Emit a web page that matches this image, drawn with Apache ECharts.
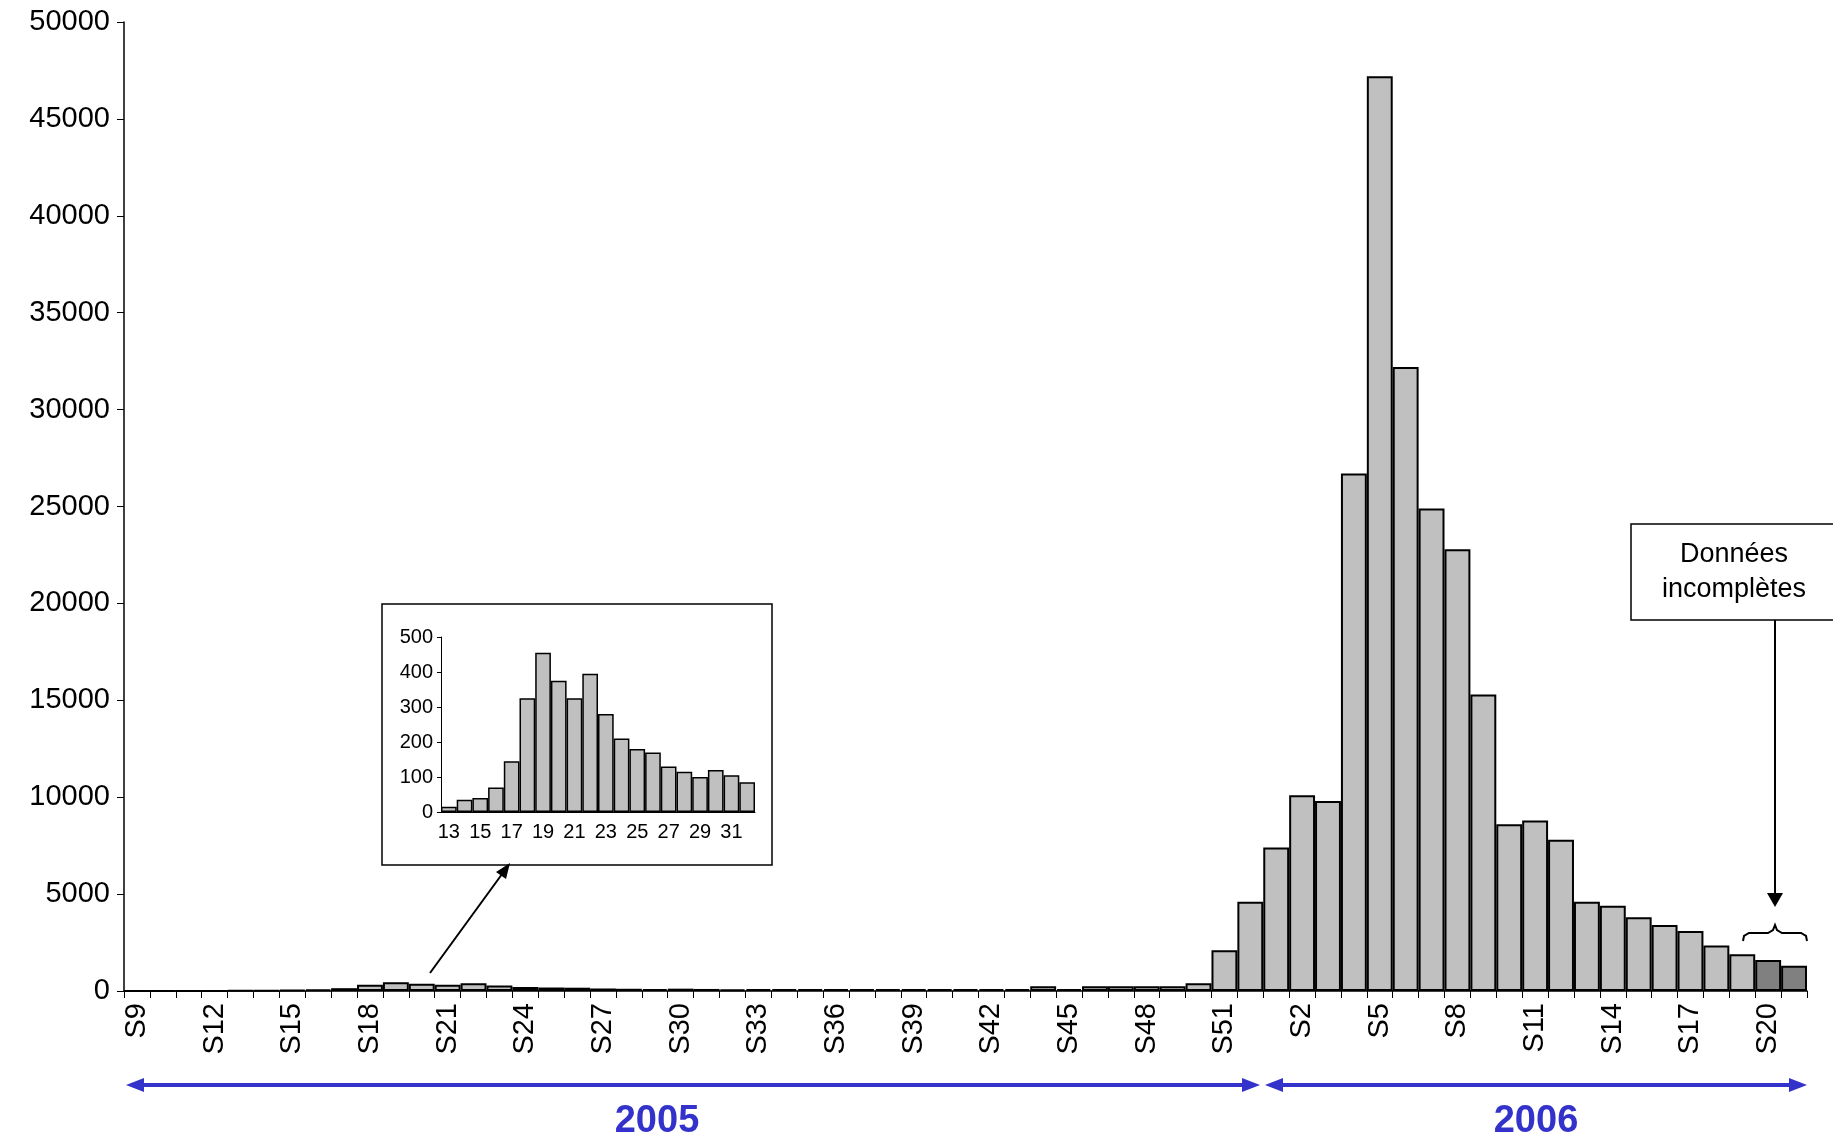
<!DOCTYPE html>
<html><head><meta charset="utf-8">
<script src="https://cdn.jsdelivr.net/npm/echarts@6/dist/echarts.min.js"></script>
<style>html,body{margin:0;padding:0;background:#fff}#c{width:1833px;height:1141px}</style>
</head><body><div id="c"></div>
<script>
const weeks2005 = [];
for (let w = 9; w <= 52; w++) weeks2005.push('S' + w);
const weeks2006 = [];
for (let w = 1; w <= 21; w++) weeks2006.push('S' + w);
const categories = weeks2005.concat(weeks2006);
const values2005 = [0,0,0,0,15,35,40,70,145,325,455,375,325,395,280,210,180,170,130,115,100,120,105,85,
  100,100,100,100,100,100,100,100,100,100,100,250,100,250,250,250,250,400,2100,4600];
const values2006 = [7400,10100,9800,26700,47200,32200,24900,22800,15300,8600,8800,7800,4600,4400,3800,3400,3100,2350,1900,1600,1300];
const incompleteFrom = 19; // index in 2006 from which data are incomplete
const insetCats = ['13','14','15','16','17','18','19','20','21','22','23','24','25','26','27','28','29','30','31','32'];
const insetValues = [15,35,40,70,145,325,455,375,325,395,280,210,180,170,130,115,100,120,105,85];

const mainData = values2005.concat(values2006).map((v,i)=>{
  const inc = i >= values2005.length + incompleteFrom;
  return {value:v, itemStyle:{color: inc ? '#808080' : '#c0c0c0'}};
});
const F = 'Liberation Sans, Arial, sans-serif';
const chart = echarts.init(document.getElementById('c'));
chart.setOption({
  animation:false,
  grid:[{left:124,right:26,top:22,bottom:150,containLabel:false},
        {left:441,top:637,width:314,height:175}],
  xAxis:[{type:'category',data:categories,gridIndex:0,boundaryGap:true,
    axisLine:{lineStyle:{color:'#000',width:1.5}},
    axisTick:{show:true,interval:0,length:7,lineStyle:{color:'#000'}},
    axisLabel:{interval:2,rotate:90,fontFamily:F,fontSize:29,color:'#000',margin:12}},
    {type:'category',data:insetCats,gridIndex:1,
    axisLine:{lineStyle:{color:'#000'}},
    axisTick:{interval:0,length:4,lineStyle:{color:'#000'}},
    axisLabel:{interval:1,fontFamily:F,fontSize:20,color:'#000',margin:10}}],
  yAxis:[{type:'value',min:0,max:50000,interval:5000,gridIndex:0,
    axisLine:{show:true,lineStyle:{color:'#000',width:1.5}},
    axisTick:{show:true,length:7,lineStyle:{color:'#000'}},
    splitLine:{show:false},
    axisLabel:{fontFamily:F,fontSize:29,color:'#000',margin:14,formatter:v=>String(v)}},
    {type:'value',min:0,max:500,interval:100,gridIndex:1,
    axisLine:{show:true,lineStyle:{color:'#000'}},
    axisTick:{show:true,length:4,lineStyle:{color:'#000'}},
    splitLine:{show:false},
    axisLabel:{fontFamily:F,fontSize:20,color:'#000',margin:8}}],
  series:[
    {type:'bar',xAxisIndex:0,yAxisIndex:0,data:mainData,barCategoryGap:'0%',
     itemStyle:{borderColor:'#000',borderWidth:2}},
    {type:'bar',xAxisIndex:1,yAxisIndex:1,data:insetValues,barCategoryGap:'0%',
     itemStyle:{color:'#c0c0c0',borderColor:'#000',borderWidth:1.5}}
  ],
  graphic:[
    {type:'rect',z:-1,shape:{x:382,y:604,width:390,height:261},style:{fill:'#fff',stroke:'#000',lineWidth:1.5}},
    {type:'line',shape:{x1:430,y1:973,x2:505,y2:870},style:{stroke:'#000',lineWidth:2}},
    {type:'polygon',shape:{points:[[510,863],[496,872],[506,879]]},style:{fill:'#000'}},
    {type:'rect',shape:{x:1631,y:524,width:210,height:96},style:{fill:'#fff',stroke:'#000',lineWidth:1.5}},
    {type:'text',style:{x:1734,y:572,text:'Données\nincomplètes',font:'27px '+F,fill:'#000',align:'center',verticalAlign:'middle',lineHeight:35}},
    {type:'line',shape:{x1:1775,y1:620,x2:1775,y2:893},style:{stroke:'#000',lineWidth:2}},
    {type:'polygon',shape:{points:[[1767,893],[1783,893],[1775,907]]},style:{fill:'#000'}},
    {type:'polyline',shape:{points:[[1743,941],[1744,936],[1749,933],[1768,933],[1773,930],[1775,925],[1777,930],[1782,933],[1801,933],[1806,936],[1807,941]]},style:{fill:null,stroke:'#000',lineWidth:2}},
    {type:'line',shape:{x1:134,y1:1085,x2:1252,y2:1085},style:{stroke:'#3333cc',lineWidth:4}},
    {type:'polygon',shape:{points:[[126,1085],[144,1078],[144,1092]]},style:{fill:'#3333cc'}},
    {type:'polygon',shape:{points:[[1260,1085],[1242,1078],[1242,1092]]},style:{fill:'#3333cc'}},
    {type:'line',shape:{x1:1273,y1:1085,x2:1799,y2:1085},style:{stroke:'#3333cc',lineWidth:4}},
    {type:'polygon',shape:{points:[[1265,1085],[1283,1078],[1283,1092]]},style:{fill:'#3333cc'}},
    {type:'polygon',shape:{points:[[1807,1085],[1789,1078],[1789,1092]]},style:{fill:'#3333cc'}},
    {type:'text',style:{x:657,y:1122,text:'2005',font:'bold 38px '+F,fill:'#3333cc',align:'center',verticalAlign:'middle'}},
    {type:'text',style:{x:1536,y:1122,text:'2006',font:'bold 38px '+F,fill:'#3333cc',align:'center',verticalAlign:'middle'}}
  ]
});
</script></body></html>
